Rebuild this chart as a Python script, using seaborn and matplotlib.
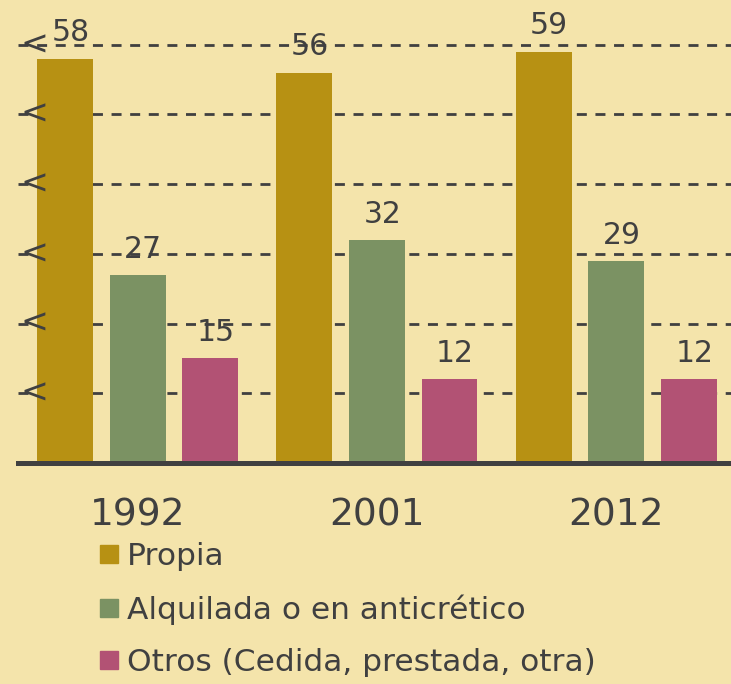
import matplotlib
matplotlib.use("Agg")
import matplotlib.pyplot as plt
from matplotlib.lines import Line2D
import pandas as pd
import seaborn as sns

years = ["1992", "2001", "2012"]
tipos = ["Propia", "Alquilada o en anticrético", "Otros (Cedida, prestada, otra)"]
propia = [58, 56, 59]
alquilada = [27, 32, 29]
otros = [15, 12, 12]
grid_vals = [10, 20, 30, 40, 50, 60]

colors = ["#B79113", "#7B9263", "#B25274"]
bg = "#F4E4AB"
dark = "#404040"

rows = []
for serie, vals in zip(tipos, [propia, alquilada, otros]):
    for y, v in zip(years, vals):
        rows.append({"year": y, "tipo": serie, "valor": v})
df = pd.DataFrame(rows)

sns.set_theme(style="white")
plt.rcParams["font.family"] = ["DejaVu Sans"]

fig = plt.figure(figsize=(7.31, 6.84), dpi=100, facecolor=bg)
ax = fig.add_axes([18 / 731, 221 / 684, 713 / 731, 463 / 684])
ax.set_facecolor(bg)

sns.barplot(data=df, x="year", y="valor", hue="tipo", hue_order=tipos,
            palette=colors, width=0.91, gap=0.23, saturation=1,
            linewidth=0, legend=False, ax=ax)

# value labels, nudged a little to the right like the original
for cont in ax.containers:
    anns = ax.bar_label(cont, padding=8, fontsize=21.5, color=dark)
    for a in anns:
        a.xyann = (4, 8)

ax.set_xlim(-0.5, 2.48)
ax.set_ylim(0, 66.4)
ax.set_axisbelow(True)

ax.set_yticks(grid_vals)
ax.set_yticklabels([])
ax.tick_params(axis="y", length=0)
# the odd "<" marks at the start of each gridline
for v in grid_vals:
    ax.text(0.003, v, "<", transform=ax.get_yaxis_transform(), ha="left",
            va="center", fontsize=24, color=dark)
ax.yaxis.grid(True, color=dark, linewidth=2, linestyle=(0, (3.6, 3.1)))
ax.xaxis.grid(False)

ax.tick_params(axis="x", length=0, pad=25, labelsize=27, labelcolor=dark)
ax.set_xlabel("")
ax.set_ylabel("")

for side in ["top", "right", "left"]:
    ax.spines[side].set_visible(False)
ax.spines["bottom"].set_color(dark)
ax.spines["bottom"].set_linewidth(3.6)

handles = [Line2D([], [], marker="s", linestyle="", markersize=13,
                  markerfacecolor=c, markeredgecolor=c) for c in colors]
fig.legend(handles, tipos, loc="upper left", bbox_to_anchor=(100 / 731, 1 - 542 / 684),
           frameon=False, fontsize=22.5, labelcolor=dark, handlelength=0.6,
           handletextpad=0.25, labelspacing=0.74, borderaxespad=0, borderpad=0)

fig.savefig("out.png", dpi=100, facecolor=bg)
